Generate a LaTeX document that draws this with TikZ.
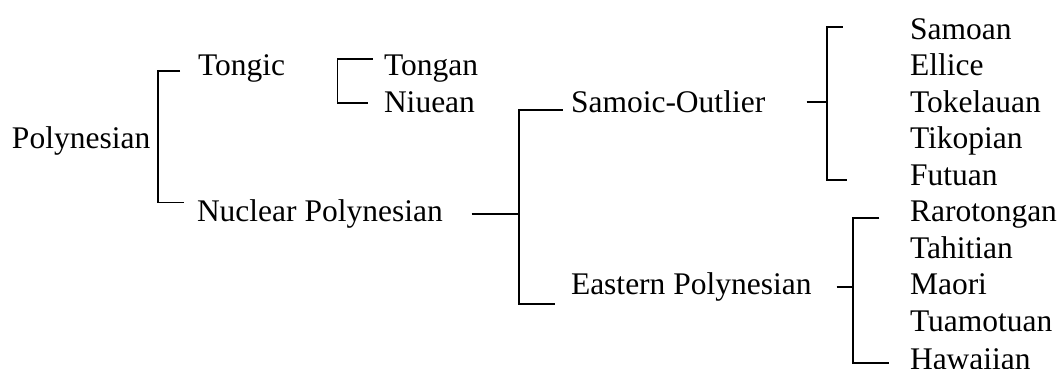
\documentclass[tikz,border=0pt]{standalone}
\usepackage{fontspec}
\newfontfamily\treefont{Liberation Serif}
\begin{document}
\begin{tikzpicture}[x=1pt,y=-1pt,
  lbl/.style={anchor=base west, inner sep=0pt, outer sep=0pt,
              font=\treefont\fontsize{31.5}{36}\selectfont},
  brk/.style={line width=1.8pt, line join=miter}]
\useasboundingbox (0,0) rectangle (1064,368);

% labels, set on a grid of rows about 36.5 apart
\node[lbl] (poly)    at (12,148.8)  {Polynesian};
\node[lbl] (tongic)  at (198,75.8)  {Tongic};
\node[lbl] (nuclear) at (197,221.8) {Nuclear Polynesian};
\node[lbl] (tongan)  at (384,75.8)  {Tongan};
\node[lbl] (niuean)  at (384,112.3) {Niuean};
\node[lbl] (samoic)  at (571,112.3) {Samoic-Outlier};
\node[lbl] (eastern) at (571,294.8) {Eastern Polynesian};
\node[lbl] (samoan)  at (910,39.3)  {Samoan};
\node[lbl] (ellice)  at (910,75.8)  {Ellice};
\node[lbl] (tokel)   at (910,112.3) {Tokelauan};
\node[lbl] (tikop)   at (910,148.8) {Tikopian};
\node[lbl] (futuan)  at (910,185.3) {Futuan};
\node[lbl] (raro)    at (910,221.8) {Rarotongan};
\node[lbl] (tahit)   at (910,258.3) {Tahitian};
\node[lbl] (maori)   at (910,294.8) {Maori};
\node[lbl] (tuamo)   at (910,331.3) {Tuamotuan};
\node[lbl] (hawai)   at (910,369.5) {Hawaiian};

% bracket corners and tick ends
\coordinate (p-top) at (158.3,71);    \coordinate (p-a) at (180,71);
\coordinate (p-bot) at (158.3,202.5); \coordinate (p-b) at (184,202.5);

\coordinate (t-top) at (337.5,59.3);  \coordinate (t-a) at (372.7,59.3);
\coordinate (t-bot) at (337.5,102.7); \coordinate (t-b) at (368,102.7);

\coordinate (n-in)  at (471.7,214.3); \coordinate (n-mid) at (519,214.3);
\coordinate (n-top) at (519,110);     \coordinate (n-a) at (562.7,110);
\coordinate (n-bot) at (519,304.3);   \coordinate (n-b) at (555,304.3);

\coordinate (s-in)  at (806.7,101.7); \coordinate (s-mid) at (827.3,101.7);
\coordinate (s-top) at (827.3,26.7);  \coordinate (s-a) at (842.7,26.7);
\coordinate (s-bot) at (827.3,180);   \coordinate (s-b) at (846.7,180);

\coordinate (e-in)  at (836.7,286.7); \coordinate (e-mid) at (853.3,286.7);
\coordinate (e-top) at (853.3,218.3); \coordinate (e-a) at (879.3,218.3);
\coordinate (e-bot) at (853.3,363.3); \coordinate (e-b) at (889.3,363.3);

% brackets
\draw[brk] (p-a) -- (p-top) -- (p-bot) -- (p-b);
\draw[brk] (t-a) -- (t-top) -- (t-bot) -- (t-b);
\draw[brk] (n-a) -- (n-top) -- (n-bot) -- (n-b);
\draw[brk] (n-in) -- (n-mid);
\draw[brk] (s-a) -- (s-top) -- (s-bot) -- (s-b);
\draw[brk] (s-in) -- (s-mid);
\draw[brk] (e-a) -- (e-top) -- (e-bot) -- (e-b);
\draw[brk] (e-in) -- (e-mid);
\end{tikzpicture}
\end{document}
